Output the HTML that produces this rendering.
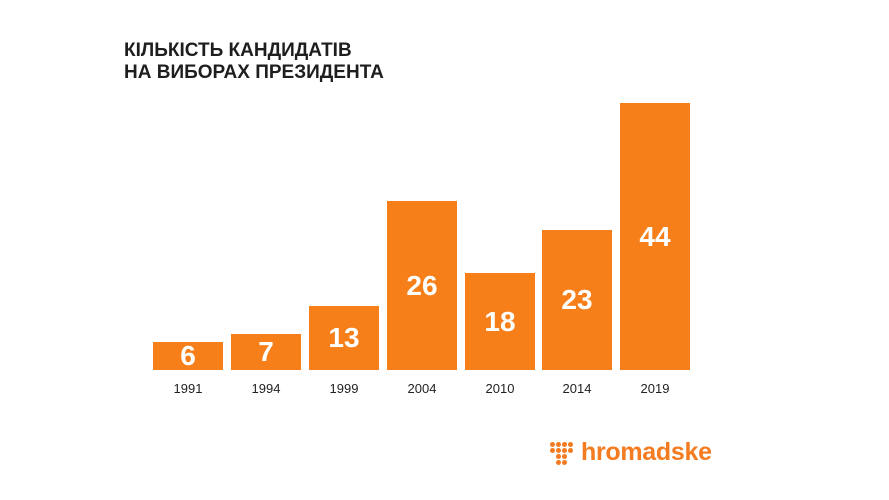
<!DOCTYPE html>
<html><head><meta charset="utf-8"><style>
body{margin:0;width:889px;height:500px;background:#fff;position:relative;overflow:hidden;font-family:"Liberation Sans",sans-serif}
.t{position:absolute;left:124px;font-weight:bold;font-size:19px;color:#1e1e1e;letter-spacing:0px}
.b{position:absolute;width:70px;background:#f77f1a;bottom:130px;color:#fff;font-weight:bold;font-size:28px;display:flex;align-items:center;justify-content:center}
.y{position:absolute;top:381px;width:70px;text-align:center;font-size:13px;color:#222}
.d{position:absolute;width:5px;height:5px;border-radius:50%;background:#f47b20}
</style></head><body>
<div class="t" style="top:40px">КІЛЬКІСТЬ КАНДИДАТІВ</div>
<div class="t" style="top:62px">НА ВИБОРАХ ПРЕЗИДЕНТА</div>
<div class="b" style="left:153px;top:342px">6</div>
<div class="b" style="left:231px;top:334px">7</div>
<div class="b" style="left:309px;top:306px">13</div>
<div class="b" style="left:387px;top:201px">26</div>
<div class="b" style="left:465px;top:273px">18</div>
<div class="b" style="left:542px;top:230px">23</div>
<div class="b" style="left:620px;top:103px">44</div>
<div class="y" style="left:153px">1991</div>
<div class="y" style="left:231px">1994</div>
<div class="y" style="left:309px">1999</div>
<div class="y" style="left:387px">2004</div>
<div class="y" style="left:465px">2010</div>
<div class="y" style="left:542px">2014</div>
<div class="y" style="left:620px">2019</div>
<div class="d" style="left:550px;top:442px"></div><div class="d" style="left:556px;top:442px"></div><div class="d" style="left:562px;top:442px"></div><div class="d" style="left:568px;top:442px"></div>
<div class="d" style="left:550px;top:448px"></div><div class="d" style="left:556px;top:448px"></div><div class="d" style="left:562px;top:448px"></div><div class="d" style="left:568px;top:448px"></div>
<div class="d" style="left:556px;top:454px"></div><div class="d" style="left:562px;top:454px"></div>
<div class="d" style="left:556px;top:460px"></div><div class="d" style="left:562px;top:460px"></div>
<div style="position:absolute;left:581px;top:438px;font-size:25px;font-weight:bold;color:#f47b20;letter-spacing:-0.3px">hromadske</div>
</body></html>
